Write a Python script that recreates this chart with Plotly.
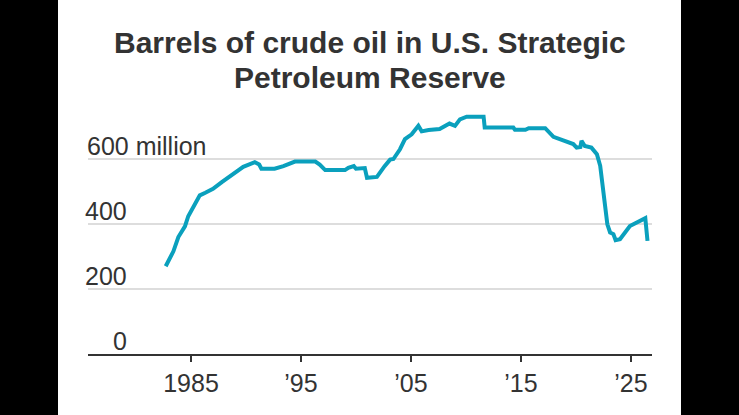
import plotly.graph_objects as go

# ---- data ----
years = [1982.7, 1983.4, 1983.85, 1984.45, 1984.75, 1985.2, 1985.8, 1986.3, 1987.0, 1987.8,
         1988.7, 1989.75, 1990.8, 1991.2, 1991.4, 1992.6, 1993.4, 1993.85, 1994.45, 1996.3,
         1996.7, 1997.2, 1999.0, 1999.3, 1999.8, 2000.0, 2000.8, 2001.0, 2001.9, 2002.6,
         2003.1, 2003.4, 2004.0, 2004.45, 2005.06, 2005.67, 2005.97, 2006.6, 2007.6, 2008.5,
         2009.0, 2009.45, 2010.06, 2011.6, 2011.7, 2013.1, 2014.3, 2014.45, 2015.4, 2015.7,
         2017.2, 2017.95, 2018.5, 2019.15, 2019.75, 2020.06, 2020.4, 2020.5, 2020.8, 2021.4,
         2021.9, 2022.2, 2022.4, 2022.6, 2022.85, 2023.1, 2023.4, 2023.6, 2024.0, 2024.9,
         2025.5, 2026.3, 2026.5]
barrels_millions = [270, 316, 360, 393, 424, 453, 488, 496, 508, 529,
                    549, 576, 590, 583, 570, 570, 578, 585, 592, 592,
                    583, 566, 566, 573, 578, 570, 572, 542, 545, 578,
                    598, 600, 630, 661, 676, 702, 685, 689, 692, 709,
                    702, 722, 730, 730, 697, 697, 697, 690, 690, 695,
                    695, 668, 661, 651, 646, 635, 637, 656, 640, 635,
                    615, 579, 522, 451, 399, 374, 369, 350, 353, 394,
                    405, 418, 348]

x_tick_vals = [1985, 1995, 2005, 2015, 2025]
x_tick_text = ["1985", "\u201995", "\u201905", "\u201915", "\u201925"]
y_tick_vals = [0, 200, 400, 600]
y_tick_text = ["0", "200", "400", "600 million"]

title_lines = ["Barrels of crude oil in U.S. Strategic", "Petroleum Reserve"]

# ---- layout constants (pixels) ----
W, H = 739, 415
L, R = 88, 652          # plot area left/right
T, B = 107, 354         # plot area top/bottom
pw, ph = R - L, B - T

def px_x(p):
    return (p - L) / pw

def px_y(p):
    return (B - p) / ph

LABEL_FONT = "Liberation Sans Narrow, Liberation Sans, Arial, sans-serif"
LABEL_SIZE = 25
TEXT = "#333333"
LINE = "#0aa0bd"

fig = go.Figure()
fig.add_trace(go.Scatter(
    x=years, y=barrels_millions, mode="lines",
    line=dict(color=LINE, width=4, shape="linear"),
    hoverinfo="skip", showlegend=False,
))

shapes = [
    dict(type="rect", xref="paper", yref="paper",
         x0=px_x(58), x1=px_x(681), y0=px_y(H), y1=px_y(0),
         fillcolor="white", line=dict(width=0), layer="below"),
]

annotations = []
# title
for line_text, cy in zip(title_lines, [42, 78]):
    annotations.append(dict(text="<b>%s</b>" % line_text, xref="paper", yref="paper",
                            x=px_x(369.5), y=px_y(cy), xanchor="center", yanchor="middle",
                            showarrow=False,
                            font=dict(family="Liberation Sans, Arial, sans-serif",
                                      size=30, color=TEXT)))
# y labels above gridlines
for v, t in zip(y_tick_vals, y_tick_text):
    if t.endswith("million"):
        annotations.append(dict(text=t, xref="paper", yref="y", x=px_x(85), y=v + 40,
                                xanchor="left", yanchor="middle", showarrow=False,
                                font=dict(family=LABEL_FONT, size=LABEL_SIZE, color=TEXT)))
    else:
        annotations.append(dict(text=t, xref="paper", yref="y", x=px_x(129), y=v + 40,
                                xanchor="right", yanchor="middle", showarrow=False,
                                font=dict(family=LABEL_FONT, size=LABEL_SIZE, color=TEXT)))

fig.update_layout(
    width=W, height=H,
    margin=dict(l=L, r=W - R, t=T, b=H - B, pad=0),
    paper_bgcolor="black", plot_bgcolor="white",
    shapes=shapes, annotations=annotations,
    xaxis=dict(range=[1985 - 103 / 11, 2025 + 21 / 11], tickvals=x_tick_vals,
               ticktext=x_tick_text, showgrid=False, zeroline=False,
               showline=True, linecolor=TEXT, linewidth=2,
               ticks="outside", ticklen=6, tickwidth=2, tickcolor=TEXT,
               tickfont=dict(family=LABEL_FONT, size=LABEL_SIZE, color=TEXT)),
    yaxis=dict(range=[0, 760], tickvals=[200, 400, 600], showticklabels=False,
               showgrid=True, gridcolor="#dddddd", gridwidth=2, zeroline=False,
               showline=False, ticks=""),
)

fig.write_html("out.html")
